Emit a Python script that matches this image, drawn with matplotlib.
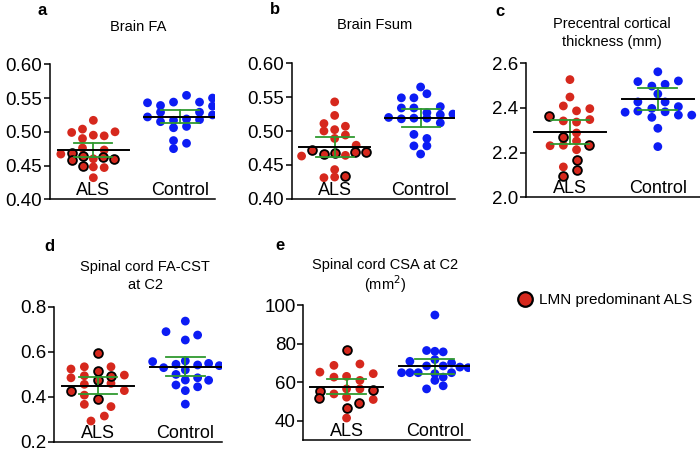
import matplotlib
matplotlib.use("Agg")
import matplotlib.pyplot as plt
import matplotlib.transforms as mtransforms
from matplotlib.lines import Line2D
import numpy as np

plt.rcParams["font.family"] = ["Liberation Sans", "DejaVu Sans"]

# ---------- data ----------
groups = ["ALS", "Control"]

# a: Brain FA
a_als_y = [0.517, 0.499, 0.504, 0.500, 0.490, 0.495, 0.494, 0.476, 0.473, 0.467,
           0.468, 0.464, 0.458, 0.460, 0.463, 0.460, 0.450, 0.448, 0.447, 0.432]
a_als_dx = [0, -0.25, -0.125, 0.25, -0.125, 0, 0.125, -0.125, 0.125, -0.375,
            -0.25, -0.125, -0.25, 0, 0.115, 0.24, -0.125, 0, 0.125, 0]
a_als_lmn = [0, 0, 0, 0, 0, 0, 0, 0, 0, 0, 1, 1, 1, 0, 1, 1, 1, 0, 0, 0]
a_ctl_y = [0.543, 0.539, 0.544, 0.554, 0.544, 0.550, 0.538, 0.529, 0.529, 0.522,
           0.515, 0.517, 0.519, 0.518, 0.525, 0.506, 0.508, 0.487, 0.483, 0.475]
a_ctl_dx = [-0.375, -0.225, -0.075, 0.075, 0.225, 0.375, 0.375, -0.225, 0.225, -0.375,
            -0.225, -0.075, 0.075, 0.225, 0.375, -0.075, 0.075, -0.075, 0.075, -0.075]
a_mean = [0.4726, 0.5224]
a_ci = [0.0105, 0.0097]

# b: Brain Fsum
b_als_y = [0.543, 0.523, 0.511, 0.500, 0.502, 0.507, 0.494, 0.489, 0.479, 0.472,
           0.463, 0.466, 0.468, 0.464, 0.469, 0.469, 0.443, 0.431, 0.432, 0.433]
b_als_dx = [0, 0, -0.125, -0.125, 0, 0.125, 0.125, 0, 0.25, -0.265,
            -0.385, -0.125, 0, 0.125, 0.24, 0.36, 0, -0.125, 0, 0.115]
b_als_lmn = [0, 0, 0, 0, 0, 0, 0, 0, 0, 1, 0, 1, 1, 0, 1, 1, 0, 0, 0, 1]
b_ctl_y = [0.565, 0.549, 0.549, 0.555, 0.534, 0.534, 0.527, 0.536, 0.520, 0.518,
           0.519, 0.519, 0.524, 0.525, 0.512, 0.495, 0.478, 0.489, 0.478, 0.466]
b_ctl_dx = [0, -0.224, -0.078, 0.073, -0.224, -0.078, 0.073, 0.229, -0.372, -0.224,
            -0.078, 0.073, 0.229, 0.376, 0.229, -0.078, -0.078, 0.073, 0.073, 0]
b_mean = [0.4767, 0.5196]
b_ci = [0.0148, 0.0131]

# c: Precentral cortical thickness
c_als_y = [2.527, 2.449, 2.409, 2.387, 2.397, 2.363, 2.342, 2.337, 2.348, 2.288,
           2.270, 2.252, 2.231, 2.233, 2.236, 2.213, 2.169, 2.124, 2.136, 2.094]
c_als_dx = [0, 0, -0.075, 0.075, 0.226, -0.234, -0.075, 0.075, 0.226, 0.075,
            -0.08, 0.075, -0.226, -0.075, 0.22, 0.075, 0.075, 0.075, -0.075, -0.08]
c_als_lmn = [0, 0, 0, 0, 0, 1, 0, 0, 0, 0, 1, 0, 0, 0, 1, 0, 1, 1, 0, 1]
c_ctl_y = [2.562, 2.518, 2.498, 2.506, 2.521, 2.463, 2.427, 2.427, 2.406,
           2.381, 2.386, 2.398, 2.383, 2.368, 2.368, 2.358, 2.309, 2.227]
c_ctl_dx = [0, -0.227, -0.068, 0.083, 0.234, 0, -0.227, 0.083, 0.234,
            -0.372, -0.227, -0.068, 0.083, 0.234, 0.386, -0.068, 0, 0]
c_mean = [2.2925, 2.439]
c_ci = [0.054, 0.0485]

# d: Spinal cord FA-CST at C2
d_als_y = [0.593, 0.523, 0.533, 0.533, 0.484, 0.493, 0.516, 0.492, 0.496, 0.474,
           0.427, 0.455, 0.407, 0.459, 0.427, 0.388, 0.366, 0.356, 0.292, 0.314]
d_als_dx = [0, -0.309, -0.156, 0.149, -0.309, -0.156, 0, 0.149, 0.302, 0,
            -0.309, -0.156, -0.156, 0.149, 0.302, 0, -0.156, 0.149, -0.08, 0.073]
d_als_lmn = [1, 0, 0, 0, 0, 0, 1, 1, 0, 1, 1, 0, 0, 0, 0, 1, 0, 0, 0, 0]
d_ctl_y = [0.736, 0.689, 0.652, 0.674, 0.556, 0.529, 0.544, 0.559, 0.541, 0.548,
           0.538, 0.499, 0.519, 0.484, 0.473, 0.452, 0.474, 0.444, 0.427, 0.367]
d_ctl_dx = [0, -0.221, 0, 0.141, -0.374, -0.248, -0.107, 0, 0.141, 0.267,
            0.389, -0.107, 0, 0.141, 0.267, -0.107, 0, 0.141, 0, 0]
d_mean = [0.4489, 0.5333]
d_ci = [0.037, 0.043]

# e: Spinal cord CSA at C2
e_als_y = [76.9, 65.2, 68.7, 69.4, 64.4, 62.6, 63.0, 60.9, 55.3, 51.7,
           53.9, 56.5, 56.5, 56.0, 52.2, 51.0, 46.4, 49.0, 41.4]
e_als_dx = [0, -0.302, -0.143, 0.151, 0.302, -0.143, 0, 0.151, -0.302, -0.309,
            -0.143, 0, 0.151, 0.294, 0, 0.302, 0, 0.14, 0]
e_als_lmn = [1, 0, 0, 0, 0, 0, 0, 0, 1, 1, 0, 0, 0, 1, 0, 0, 1, 1, 0]
e_ctl_y = [94.8, 76.4, 76.0, 75.7, 70.8, 71.7, 69.9, 68.4, 68.4, 67.8,
           67.5, 64.9, 64.9, 64.9, 64.9, 64.4, 60.9, 62.6, 56.5, 58.1]
e_ctl_dx = [0, -0.094, 0, 0.094, -0.283, 0, 0.189, -0.094, 0.094, 0.283,
            0.377, -0.377, -0.283, -0.189, 0.189, 0, 0, 0.094, -0.094, 0.094]
e_mean = [57.74, 68.2]
e_ci = [4.0, 3.8]

RED = "#d6281d"
BLUE = "#0c1cf4"
GREEN = "#2f9a2f"
W, H = 700, 451


def px_axes(fig, left, right, top, bottom):
    # 像素坐标 -> figure 坐标
    return fig.add_axes([left / W, 1 - bottom / H, (right - left) / W, (bottom - top) / H])


def draw_panel(ax, als_y, als_dx, als_lmn, ctl_y, ctl_dx, means, cis,
               ylim, yticks, fmt, xlim):
    als_y = np.asarray(als_y)
    als_x = 0 + np.asarray(als_dx)
    lmn = np.asarray(als_lmn, dtype=bool)
    ax.scatter(als_x[~lmn], als_y[~lmn], s=40, color=RED, edgecolors="none", zorder=3)
    ax.scatter(als_x[lmn], als_y[lmn], s=40, color=RED, edgecolors="black",
               linewidths=1.3, zorder=4)
    ax.scatter(1 + np.asarray(ctl_dx), ctl_y, s=40, color=BLUE, edgecolors="none", zorder=3)

    for i in range(2):
        m, c = means[i], cis[i]
        ax.plot([i - 0.22, i + 0.22], [m + c, m + c], color=GREEN, lw=1.3, zorder=5)
        ax.plot([i - 0.22, i + 0.22], [m - c, m - c], color=GREEN, lw=1.3, zorder=5)
        ax.plot([i, i], [m - c, m + c], color=GREEN, lw=1.3, zorder=5)
        ax.plot([i - 0.41, i + 0.41], [m, m], color="black", lw=1.4, zorder=6)

    trans = mtransforms.blended_transform_factory(ax.transData, ax.transAxes)
    for i, g in enumerate(groups):
        ax.text(i, 0.0, g, transform=trans, ha="center", va="bottom", fontsize=13)

    ax.set_xlim(*xlim)
    ax.set_ylim(*ylim)
    ax.set_yticks(yticks)
    ax.set_yticklabels([fmt % t for t in yticks])
    ax.set_xticks([])
    ax.spines["top"].set_visible(False)
    ax.spines["right"].set_visible(False)
    for s in ("left", "bottom"):
        ax.spines[s].set_linewidth(1.1)
    ax.tick_params(axis="y", length=4, width=1.1, pad=1.5, labelsize=13.5)
    ax.patch.set_alpha(0)


fig = plt.figure(figsize=(7.0, 4.51), dpi=100)

ax_a = px_axes(fig, 50, 214.7, 64.3, 199.3)
draw_panel(ax_a, a_als_y, a_als_dx, a_als_lmn, a_ctl_y, a_ctl_dx, a_mean, a_ci,
           (0.40, 0.60), [0.40, 0.45, 0.50, 0.55, 0.60], "%.2f", (-0.5, 1.4))

ax_b = px_axes(fig, 291.7, 455, 63.3, 198.7)
draw_panel(ax_b, b_als_y, b_als_dx, b_als_lmn, b_ctl_y, b_ctl_dx, b_mean, b_ci,
           (0.40, 0.60), [0.40, 0.45, 0.50, 0.55, 0.60], "%.2f", (-0.5, 1.4))

ax_c = px_axes(fig, 526, 700, 63.3, 197.3)
draw_panel(ax_c, c_als_y, c_als_dx, c_als_lmn, c_ctl_y, c_ctl_dx, c_mean, c_ci,
           (2.0, 2.6), [2.0, 2.2, 2.4, 2.6], "%.1f", (-0.5, 1.48))

ax_d = px_axes(fig, 54.3, 222, 306.7, 441.7)
draw_panel(ax_d, d_als_y, d_als_dx, d_als_lmn, d_ctl_y, d_ctl_dx, d_mean, d_ci,
           (0.2, 0.8), [0.2, 0.4, 0.6, 0.8], "%.1f", (-0.5, 1.42))

ax_e = px_axes(fig, 303.3, 470.2, 305, 440)
draw_panel(ax_e, e_als_y, e_als_dx, e_als_lmn, e_ctl_y, e_ctl_dx, e_mean, e_ci,
           (30, 100), [40, 60, 80, 100], "%d", (-0.49, 1.4))

# 面板字母与标题
letters = [("a", 41.7, 10.7), ("b", 275, 10), ("c", 500, 11.7), ("d", 49.3, 246.7), ("e", 280, 245.7)]
for txt, x, y in letters:
    fig.text(x / W, 1 - y / H, txt, fontsize=12, fontweight="bold", ha="center", va="center")

titles = [("Brain FA", 137.7, 26.7), ("Brain Fsum", 375, 25),
          ("Precentral cortical", 611.7, 24), ("thickness (mm)", 611.7, 41.7),
          ("Spinal cord FA-CST", 145, 266.7), ("at C2", 145, 285),
          ("Spinal cord CSA at C2", 385, 265), ("(mm$^2$)", 385, 284.3)]
for txt, x, y in titles:
    fig.text(x / W, 1 - y / H, txt, fontsize=10.5, ha="center", va="center")

handle = Line2D([], [], marker="o", ls="", markerfacecolor=RED, markeredgecolor="black",
                markersize=10.5, markeredgewidth=1.6)
fig.legend(handles=[handle], labels=["LMN predominant ALS"], loc="center left",
           bbox_to_anchor=(517.5 / W, 1 - 300 / H), frameon=False, fontsize=11,
           handlelength=1.0, handletextpad=0.4, borderpad=0, borderaxespad=0)

fig.savefig("out.png", dpi=100)
